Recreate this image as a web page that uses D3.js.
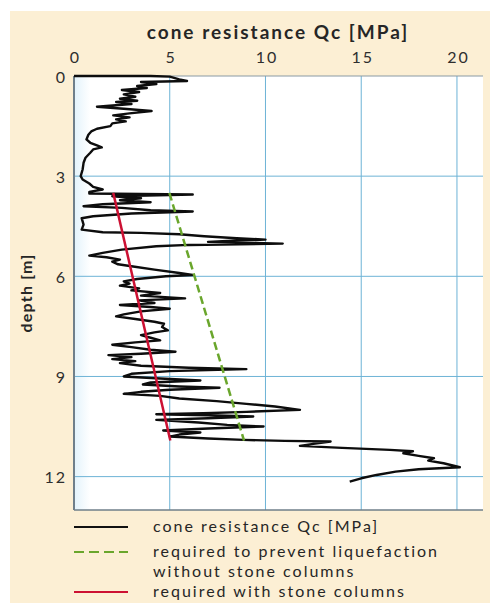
<!DOCTYPE html>
<meta charset="utf-8">

<script src="https://d3js.org/d3.v7.min.js"></script>

<style type="text/css">

body {
  margin: 0;
  background: white;
  overflow: hidden;
}

svg {
  display: block;
}

text {
  font-family: Lato, "Open Sans", sans-serif;
  fill: #262626;
}

.titleText {
  font-size: 19px;
  font-weight: bold;
  letter-spacing: 2px;
}

.axis text {
  font-size: 16px;
  letter-spacing: 2px;
  fill: #2e2e2e;
}

.axis path, .axis line {
  display: none;
}

.grid line {
  stroke: #6db3d6;
  stroke-width: 1px;
}

.legendText {
  font-size: 16px;
  letter-spacing: 2px;
}

</style>

<body>
  <div id="chart"></div>
</body>

<script>

  const outerWidth = 492;
  const outerHeight = 603;
  const margin = {top: 76, right: 9, bottom: 93, left: 74};
  const innerWidth = outerWidth - margin.left - margin.right;
  const innerHeight = outerHeight - margin.top - margin.bottom;

  // ---------------------------//
  //         DEFINING DATA      //
  // ---------------------------//

  const qcTicks = [0, 5, 10, 15, 20];
  const depthTicks = [0, 3, 6, 9, 12];

  // cone resistance profile
  const depth = [
    0.00, 0.00, 0.02, 0.10, 0.15, 0.18, 0.24, 0.30, 0.36, 0.42, 0.48, 0.55, 0.62, 0.68, 0.74, 0.78,
    0.84, 0.92, 0.98, 1.05, 1.12, 1.18, 1.24, 1.30, 1.36, 1.42, 1.50, 1.58, 1.66, 1.76, 1.90, 2.00,
    2.08, 2.14, 2.20, 2.30, 2.45, 2.60, 2.80, 3.00, 3.10, 3.22, 3.32, 3.40, 3.47, 3.52, 3.55, 3.60,
    3.66, 3.72, 3.78, 3.84, 3.90, 3.95, 4.02, 4.06, 4.12, 4.20, 4.26, 4.45, 4.60, 4.68, 4.70, 4.74,
    4.80, 4.86, 4.90, 4.94, 4.97, 5.02, 5.06, 5.10, 5.20, 5.30, 5.38, 5.43, 5.50, 5.56, 5.64, 5.70,
    5.80, 5.90, 5.96, 6.00, 6.08, 6.15, 6.22, 6.28, 6.36, 6.42, 6.50, 6.58, 6.66, 6.72, 6.80, 6.86,
    6.92, 6.97, 7.05, 7.14, 7.20, 7.28, 7.36, 7.42, 7.52, 7.62, 7.68, 7.76, 7.84, 7.92, 7.98, 8.05,
    8.12, 8.20, 8.26, 8.32, 8.36, 8.42, 8.48, 8.54, 8.60, 8.68, 8.74, 8.78, 8.84, 8.92, 9.00, 9.06,
    9.12, 9.18, 9.24, 9.30, 9.34, 9.40, 9.46, 9.52, 9.58, 9.66, 9.74, 9.82, 9.90, 10.00, 10.06, 10.10,
    10.13, 10.16, 10.20, 10.25, 10.30, 10.38, 10.45, 10.50, 10.56, 10.62, 10.68, 10.74, 10.80, 10.86, 10.90, 10.93,
    10.95, 11.02, 11.08, 11.14, 11.20, 11.24, 11.30, 11.38, 11.45, 11.52, 11.60, 11.72, 11.78, 11.85, 11.95, 12.05,
    12.15
  ];
  const qc = [
    0.0, 4.0, 5.0, 5.5, 5.9, 3.5, 4.3, 3.3, 3.8, 2.5, 3.4, 2.6, 3.2, 2.4, 3.3, 2.2,
    3.0, 1.2, 2.6, 4.05, 2.9, 2.05, 2.9, 2.2, 2.7, 2.0, 1.9, 1.2, 0.9, 0.75, 0.65, 0.85,
    1.2, 1.45, 1.0, 0.85, 0.6, 0.5, 0.45, 0.35, 0.45, 0.8, 1.0, 1.5, 0.8, 0.8, 6.2, 2.0,
    3.5, 2.4, 4.0, 1.5, 0.5, 2.5, 4.0, 6.2, 3.0, 1.0, 0.4, 0.5, 0.4, 1.5, 3.5, 5.5,
    6.8, 8.5, 10.0, 8.0, 7.0, 10.9, 6.0, 4.3, 2.5, 1.5, 0.8, 1.7, 2.4, 2.0, 2.3, 3.0,
    4.2, 5.5, 6.2, 4.8, 3.3, 2.6, 2.9, 2.4, 3.4, 3.0, 4.5, 3.5, 5.8, 3.4, 4.2, 2.4,
    4.0, 5.0, 3.5, 2.6, 2.2, 3.2, 4.2, 4.7, 4.6, 4.9, 4.2, 3.5, 4.0, 4.5, 3.2, 2.0,
    3.0, 4.0, 5.3, 3.5, 1.8, 3.0, 2.0, 3.2, 2.4, 3.5, 6.0, 9.0, 5.0, 3.0, 2.6, 4.5,
    6.6, 4.0, 3.6, 5.5, 7.6, 5.0, 3.5, 2.6, 4.5, 5.5, 7.45, 9.0, 10.5, 11.8, 9.0, 6.75,
    4.3, 7.0, 9.36, 7.0, 4.3, 6.5, 8.0, 9.9, 7.0, 4.66, 6.6, 5.5, 5.0, 7.0, 8.85, 11.0,
    13.4, 12.5, 11.8, 14.0, 16.5, 17.7, 17.2, 18.0, 18.8, 18.5, 19.3, 20.15, 18.0, 16.8, 15.8, 15.0,
    14.4
  ];

  // required resistance lines: [top, bottom]
  const reqDepth = [3.5, 10.92];
  const reqWithout = [4.98, 8.88];
  const reqWith = [2.05, 5.03];

  const legendLabels = [
    ["cone resistance Qc [MPa]"],
    ["required to prevent liquefaction", "without stone columns"],
    ["required with stone columns"]
  ];

  // ---------------------------//
  //         SCALES             //
  // ---------------------------//

  const x = d3.scaleLinear()
    .domain([0, 21.36])
    .range([margin.left, margin.left + innerWidth]);

  const y = d3.scaleLinear()
    .domain([0, 13])
    .range([margin.top, margin.top + innerHeight]);

  const SVG = d3.select("#chart").append("svg")
    .attr("width", outerWidth)
    .attr("height", outerHeight);

  // beige panel
  SVG.append("rect")
    .attr("x", 10)
    .attr("y", 11)
    .attr("width", 480)
    .attr("height", 592)
    .attr("fill", "#fcefd4");

  // plot background, faint blue near the left axis
  const grad = SVG.append("defs").append("linearGradient")
    .attr("id", "plotFill");
  grad.append("stop").attr("offset", "0%").attr("stop-color", "#e3f3fb");
  grad.append("stop").attr("offset", "4%").attr("stop-color", "#ffffff");
  grad.append("stop").attr("offset", "100%").attr("stop-color", "#ffffff");

  SVG.append("rect")
    .attr("x", x(0))
    .attr("y", y(0))
    .attr("width", innerWidth)
    .attr("height", innerHeight)
    .attr("fill", "url(#plotFill)");

  // grid
  SVG.append("g").classed("grid", true)
    .selectAll("line")
    .data(qcTicks.slice(1))
    .enter()
    .append("line")
    .attr("x1", d => x(d))
    .attr("x2", d => x(d))
    .attr("y1", y(0))
    .attr("y2", y(13));

  SVG.append("g").classed("grid", true)
    .selectAll("line")
    .data(depthTicks.slice(1))
    .enter()
    .append("line")
    .attr("x1", x(0))
    .attr("x2", x(21.36))
    .attr("y1", d => y(d))
    .attr("y2", d => y(d));

  // frame lines (top, left, bottom)
  SVG.append("line")
    .attr("x1", x(0)).attr("x2", x(21.36))
    .attr("y1", y(0)).attr("y2", y(0))
    .attr("stroke", "#8a9aa4").attr("stroke-width", 1);

  SVG.append("line")
    .attr("x1", x(0)).attr("x2", x(0))
    .attr("y1", y(0)).attr("y2", y(13))
    .attr("stroke", "#6f7f8a").attr("stroke-width", 2);

  SVG.append("line")
    .attr("x1", x(0)).attr("x2", x(21.36))
    .attr("y1", y(13)).attr("y2", y(13))
    .attr("stroke", "#6f7f8a").attr("stroke-width", 1.5);

  // axes
  SVG.append("g").classed("axis", true)
    .attr("transform", "translate(1," + (y(0) - 13) + ")")
    .call(d3.axisTop(x).tickValues(qcTicks).tickSize(0).tickPadding(0));

  SVG.append("g").classed("axis", true)
    .attr("transform", "translate(" + (x(0) - 7) + ",0)")
    .call(d3.axisLeft(y).tickValues(depthTicks).tickSize(0).tickPadding(0))
    .selectAll("text")
    .attr("dy", null)
    .attr("y", 6);

  // titles
  SVG.append("text")
    .attr("x", 278)
    .attr("y", 39)
    .style("text-anchor", "middle")
    .text("cone resistance Qc [MPa]")
    .classed("titleText", true);

  SVG.append("text")
    .attr("transform", "translate(32," + y(6.5) + ") rotate(-90)")
    .style("text-anchor", "middle")
    .text("depth [m]")
    .classed("titleText", true)
    .style("font-size", "16px")
    .style("letter-spacing", "1.2px");

  // ---------------------------//
  //         LINES              //
  // ---------------------------//

  const qcData = depth.map((d, i) => ({depth: d, qc: qc[i]}));

  const line = d3.line()
    .x(d => x(d.qc))
    .y(d => y(d.depth));

  SVG.append("path")
    .datum(qcData)
    .attr("d", line)
    .attr("fill", "none")
    .attr("stroke", "#0d0d0d")
    .attr("stroke-width", 2.4)
    .attr("stroke-linejoin", "round");

  SVG.append("path")
    .datum(reqDepth.map((d, i) => ({depth: d, qc: reqWithout[i]})))
    .attr("d", line)
    .attr("fill", "none")
    .attr("stroke", "#6aa62c")
    .attr("stroke-width", 2.5)
    .attr("stroke-dasharray", "8 4");

  SVG.append("path")
    .datum(reqDepth.map((d, i) => ({depth: d, qc: reqWith[i]})))
    .attr("d", line)
    .attr("fill", "none")
    .attr("stroke", "#cc1133")
    .attr("stroke-width", 2.5);

  // ---------------------------//
  //         LEGEND             //
  // ---------------------------//

  const legendY = [527, 552, 592];
  const legendStyle = [
    {stroke: "#111", dash: null},
    {stroke: "#6aa62c", dash: "10 5"},
    {stroke: "#cc1133", dash: null}
  ];

  const legend = SVG.append("g");

  legendLabels.forEach((lines, i) => {
    legend.append("line")
      .attr("x1", 74).attr("x2", 128)
      .attr("y1", legendY[i]).attr("y2", legendY[i])
      .attr("stroke", legendStyle[i].stroke)
      .attr("stroke-width", 2.2)
      .attr("stroke-dasharray", legendStyle[i].dash);

    lines.forEach((t, j) => {
      legend.append("text")
        .attr("x", 153)
        .attr("y", legendY[i] + 5 + j * 20)
        .text(t)
        .classed("legendText", true);
    });
  });

</script>
